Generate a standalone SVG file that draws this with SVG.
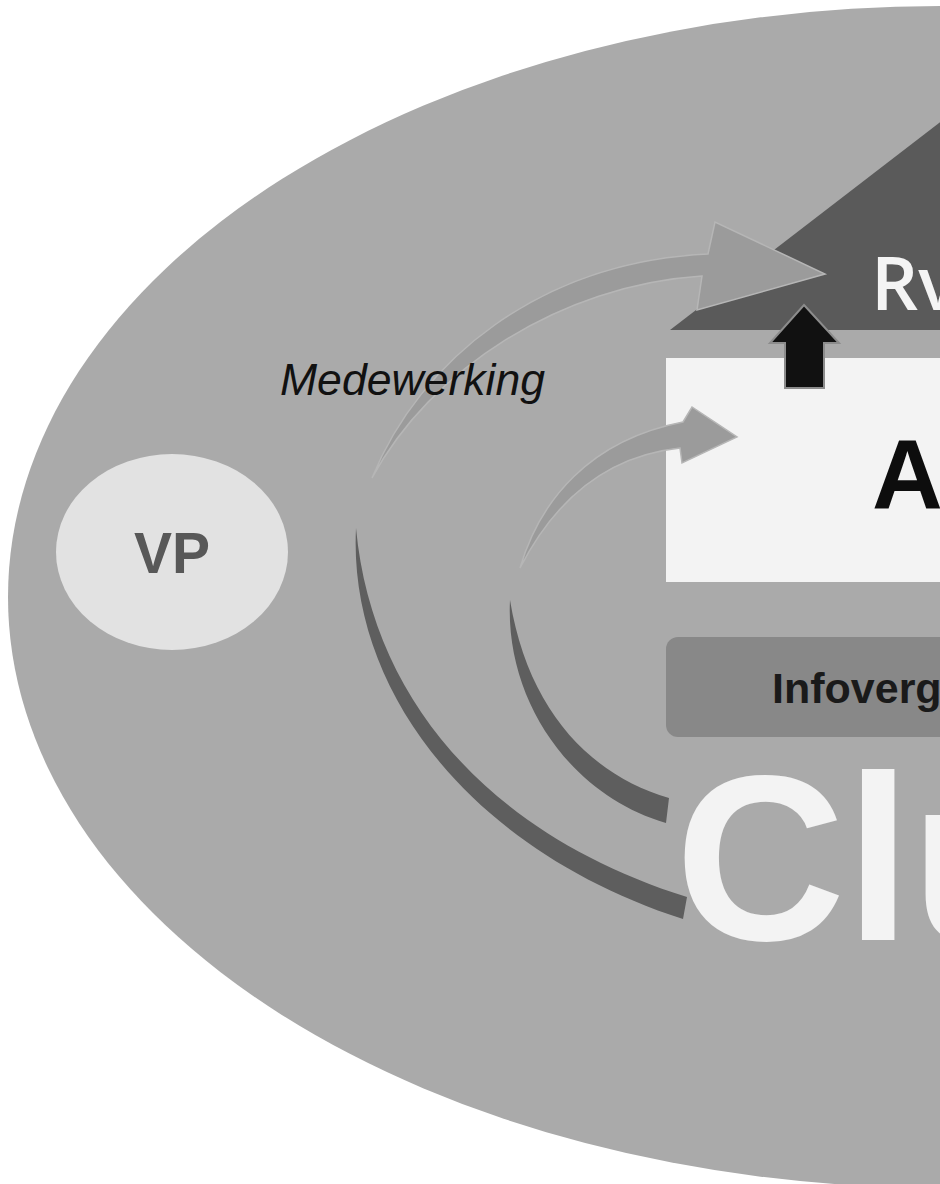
<svg xmlns="http://www.w3.org/2000/svg" width="940" height="1184" viewBox="0 0 940 1184">
<style>
.face-light{fill:#9b9b9b;stroke:#b6b6b6;stroke-width:1.5;stroke-linejoin:miter}
.face-dark{fill:#5e5e5e}
.sans{font-family:"Liberation Sans",Arial,sans-serif}
</style>
<rect x="0" y="0" width="940" height="1184" fill="#ffffff"/>
<g id="cluster">
<ellipse cx="943" cy="597" rx="935" ry="591" fill="#aaaaaa"/>
</g>
<g id="vp">
<ellipse cx="172" cy="552" rx="116" ry="98" fill="#e2e2e2"/>
<text x="172" y="573" text-anchor="middle" class="sans" font-weight="bold" font-size="57" fill="#585858">VP</text>
</g>
<g id="rvb">
<polygon points="670,330 1000,76 1000,330" fill="#5a5a5a"/>
<text x="871" y="310" font-family="'Open Sans',sans-serif" font-weight="600" font-size="74" fill="#f4f4f4">Rv</text>
</g>
<g id="a-box">
<rect x="666" y="358" width="300" height="224" fill="#f3f3f3"/>
<text x="872" y="508" class="sans" font-weight="bold" font-size="98" fill="#0d0d0d">A</text>
</g>
<g id="info">
<rect x="666" y="637" width="320" height="100" rx="12" fill="#888888"/>
<text x="772" y="703" class="sans" font-weight="bold" font-size="43" fill="#1a1a1a">Infoverg</text>
</g>
<g id="cl-text">
<text x="675" y="940" class="sans" font-weight="bold" font-size="236" fill="#f3f3f3">Clu</text>
</g>
<g id="connectors">
<path class="face-dark" d="M356,528 C348,690 470,850 683,919 L687,897 C490,835 372,700 356,528 Z"/>
<path class="face-light" d="M372,478 C420,360 540,262 708,254 L715,222 L825,274 L697,310 L702,276 C560,285 430,370 372,478 Z"/>
<path class="face-dark" d="M510,600 C505,700 570,795 666,823 L669,798 C590,775 528,710 510,600 Z"/>
<path class="face-light" d="M520,568 C540,500 590,440 683,422 L692,407 L737,437 L682,463 L680,448 C615,455 560,490 520,568 Z"/>
<polygon points="804,305 839,343 824,343 824,388 785,388 785,343 770,343" fill="#111111" stroke="#8c8c8c" stroke-width="2"/>
</g>
<g id="label-medewerking">
<text x="280" y="395" class="sans" font-style="italic" font-size="44" textLength="265" lengthAdjust="spacingAndGlyphs" fill="#111111">Medewerking</text>
</g>
</svg>
